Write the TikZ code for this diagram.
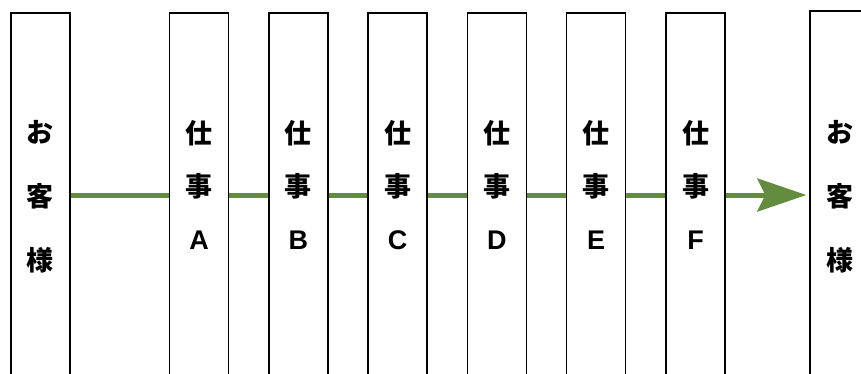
\documentclass[tikz,border=0pt]{standalone}
\usepackage{fontspec}
\setmainfont{Liberation Sans}
\newfontfamily\jpfont{Noto Sans CJK JP}
\usetikzlibrary{arrows.meta}
\definecolor{flowgreen}{RGB}{100,140,62}
\newcommand{\jobnames}{A,B,C,D,E,F}

\begin{document}
\begin{tikzpicture}[x=1pt,y=1pt,
    lane/.style={rectangle, draw=black, line width=1.4pt, fill=white,
        minimum width=59pt, minimum height=364pt, inner sep=0pt},
    lanetext/.style={align=center, font=\bfseries\fontsize{27}{53}\selectfont},
    custtext/.style={align=center, font=\jpfont\bfseries\fontsize{27}{64}\selectfont},
    flow/.style={draw=flowgreen, line width=5pt}
]
\useasboundingbox (0,0) rectangle (861,-373);
\clip (0,0) rectangle (861,-373);

% Customers
\node[lane] (Cust-in) at (40.5,-195) {};
\node[custtext] (Cust-in-txt) at ([yshift=-2pt]Cust-in.center) {お\\客\\様};
\node[lane, minimum height=368pt] (Cust-out) at (839.5,-195) {};
\node[custtext] (Cust-out-txt) at ([yshift=-2pt]Cust-out.center) {お\\客\\様};

% Jobs
\foreach \n [count=\i] in \jobnames
{
    \node[lane] (Job-\n) at ({199+(\i-1)*99.3},-195) {};
    \node[lanetext] (Job-\n-txt) at ([yshift=10pt]Job-\n.center)
        {{\jpfont 仕}\\{\jpfont 事}\\\n};
}

% Flow
\draw[flow] (Cust-in) -- (Job-A);
\foreach \a/\b in {A/B,B/C,C/D,D/E,E/F}
{
    \draw[flow] (Job-\a) -- (Job-\b);
}
\draw[flow, -{Stealth[length=49pt, width=33pt, inset=8pt, fill=flowgreen]},
    shorten >=3pt] (Job-F) -- (Cust-out);

\end{tikzpicture}
\end{document}
